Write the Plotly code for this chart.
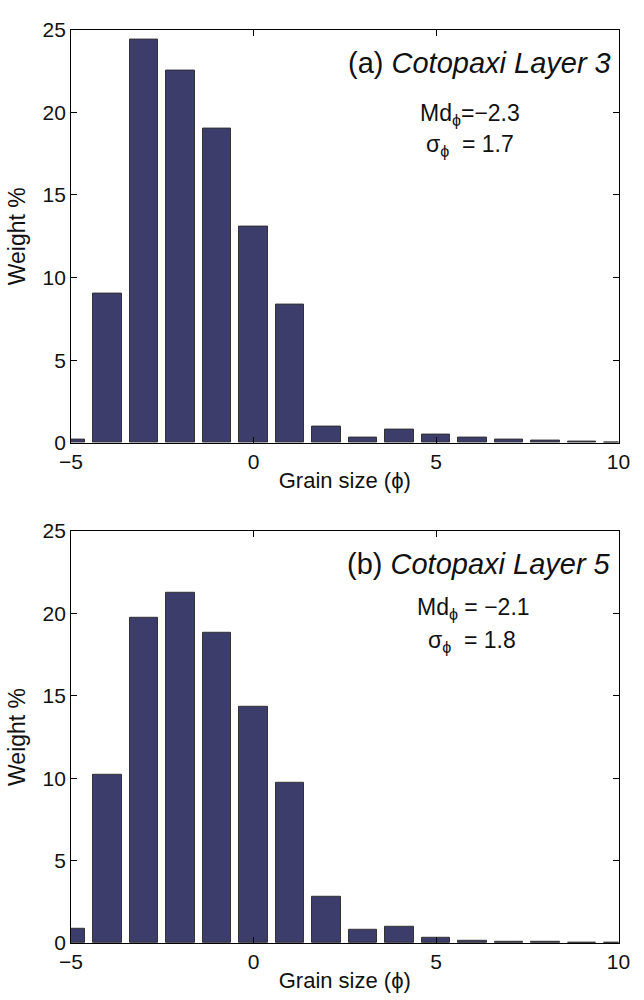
import plotly.graph_objects as go

# Grain-size bins (phi units) and weight-percent per bin
phi = [-5, -4, -3, -2, -1, 0, 1, 2, 3, 4, 5, 6, 7, 8, 9, 10]
layer3_wt = [0.2, 9.0, 24.4, 22.5, 19.0, 13.1, 8.35, 1.0, 0.3, 0.8, 0.5, 0.3, 0.2, 0.12, 0.07, 0.03]
layer5_wt = [0.85, 10.2, 19.7, 21.25, 18.8, 14.35, 9.7, 2.8, 0.8, 1.0, 0.3, 0.15, 0.08, 0.05, 0.03, 0.02]

titles = ["(a) <i>Cotopaxi Layer 3</i>", "(b) <i>Cotopaxi Layer 5</i>"]
md_text = ["Md<sub>ϕ</sub>=−2.3", "Md<sub>ϕ</sub> = −2.1"]
sd_text = ["σ<sub>ϕ</sub>  = 1.7", "σ<sub>ϕ</sub>  = 1.8"]

x_ticks = [-5, 0, 5, 10]
y_ticks = [0, 5, 10, 15, 20, 25]

FONT = "Liberation Sans, Arial, Helvetica, sans-serif"
BAR = "#3d3d6b"
INK = "#111111"

fig = go.Figure()

fig.add_trace(go.Bar(x=phi, y=layer3_wt, width=0.77, xaxis="x", yaxis="y",
                     marker=dict(color=BAR, line=dict(color="#333333", width=1)),
                     showlegend=False))
fig.add_trace(go.Bar(x=phi, y=layer5_wt, width=0.77, xaxis="x2", yaxis="y2",
                     marker=dict(color=BAR, line=dict(color="#333333", width=1)),
                     showlegend=False))

xdom = [61.3 / 644, 630 / 644]
ydoms = [[1 - 441 / 1000, 1 - 18 / 1000], [1 - 953 / 1000, 1 - 531 / 1000]]

axis_common = dict(showline=True, linecolor="black", linewidth=1, mirror="ticks",
                   ticks="inside", ticklen=6, tickcolor="black", showgrid=False,
                   zeroline=False, tickfont=dict(family=FONT, size=21, color=INK))

for i, (xa, ya) in enumerate([("xaxis", "yaxis"), ("xaxis2", "yaxis2")]):
    fig.layout[xa] = dict(axis_common, domain=xdom, range=[-5, 10], tickvals=x_ticks,
                          anchor="y" if i == 0 else "y2",
                          title=dict(text="Grain size (ϕ)", standoff=0,
                                     font=dict(family=FONT, size=22, color=INK)))
    fig.layout[ya] = dict(axis_common, domain=ydoms[i], range=[0, 25], tickvals=y_ticks,
                          anchor="x" if i == 0 else "x2",
                          title=dict(text="Weight %", standoff=10,
                                     font=dict(family=FONT, size=23, color=INK)))

annotations = []
md_pos = [(5.93, 19.86), (6.03, 20.27)]
sd_pos = [(5.93, 17.97), (5.98, 18.3)]
for i in range(2):
    xr = "x" if i == 0 else "x2"
    yr = "y" if i == 0 else "y2"
    annotations.append(dict(text=titles[i], x=9.85, y=23.0, xref=xr, yref=yr,
                            xanchor="right", yanchor="middle", showarrow=False,
                            font=dict(family=FONT, size=29, color=INK)))
    annotations.append(dict(text=md_text[i], x=md_pos[i][0], y=md_pos[i][1], xref=xr, yref=yr,
                            xanchor="center", yanchor="middle", showarrow=False,
                            font=dict(family=FONT, size=23, color=INK)))
    annotations.append(dict(text=sd_text[i], x=sd_pos[i][0], y=sd_pos[i][1], xref=xr, yref=yr,
                            xanchor="center", yanchor="middle", showarrow=False,
                            font=dict(family=FONT, size=23, color=INK)))

fig.update_layout(width=644, height=1000, margin=dict(l=0, r=0, t=0, b=0),
                  paper_bgcolor="white", plot_bgcolor="white",
                  bargap=0, annotations=annotations)

fig.write_html("out.html")
